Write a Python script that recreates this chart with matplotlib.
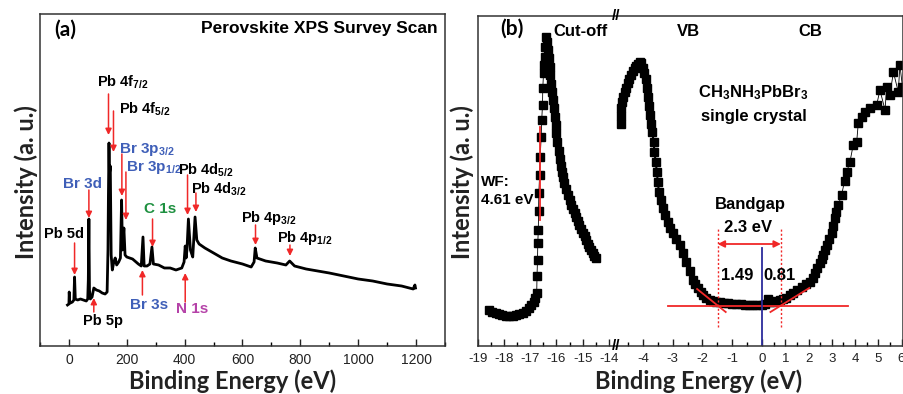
import numpy as np
import matplotlib
matplotlib.use("Agg")
import matplotlib.pyplot as plt
import matplotlib.transforms as mtransforms
from matplotlib.ticker import FixedLocator, MultipleLocator

plt.rcParams['font.family'] = ['Liberation Sans', 'DejaVu Sans']
plt.rcParams['mathtext.fontset'] = 'custom'
plt.rcParams['mathtext.rm'] = 'Liberation Sans:bold'
plt.rcParams['mathtext.it'] = 'Liberation Sans:bold'
plt.rcParams['mathtext.bf'] = 'Liberation Sans:bold'

RED = '#f02828'
BR_BLUE = '#3f5fb8'
C_GREEN = '#1e9040'
N_MAGENTA = '#b542a8'

# ---- (a) XPS survey scan (binding energy eV, intensity a.u.) ----
survey_be = [-5, 0, 1, 3, 5, 12, 17, 19.5, 22, 30, 40, 50, 60, 65, 67, 69, 71, 74, 80, 86, 95,
             105, 115, 125, 132, 135, 136.5, 138.5, 140, 143, 146, 150, 155, 160, 165, 172,
             178, 182, 185, 190, 194, 200, 220, 240, 250, 256, 260, 270, 280, 287, 292, 310,
             330, 350, 370, 390, 398, 402, 405, 408, 413, 420, 428, 436, 442, 450, 470, 500,
             530, 560, 600, 630, 640, 644, 650, 680, 720, 750, 763, 780, 820, 860, 900, 950,
             1000, 1050, 1100, 1150, 1190, 1196, 1198]
survey_int = [41, 42, 54, 43, 43, 44, 46, 69, 47, 46, 47, 46, 45, 47, 66, 127, 56, 47, 49, 58, 56,
              55, 53, 52, 54, 96, 150, 203, 172, 180, 91, 76, 84, 88, 81, 84,
              88, 146, 96, 118, 91, 89, 87, 82, 80, 109, 80, 80, 82, 99, 82, 81,
              78, 78, 76, 78, 84, 100, 88, 96, 127, 96, 89, 129, 106, 102, 98, 93,
              88, 85, 82, 79, 84, 98, 88, 85, 83, 81, 85, 80, 77, 75, 73, 70,
              67, 65, 62, 60, 57, 61, 58]

peak_labels = [r'Pb 4f$_{\mathregular{7/2}}$', r'Pb 4f$_{\mathregular{5/2}}$',
               r'Br 3p$_{\mathregular{3/2}}$', r'Br 3p$_{\mathregular{1/2}}$',
               r'Pb 4d$_{\mathregular{5/2}}$', r'Pb 4d$_{\mathregular{3/2}}$',
               'Br 3d', 'Pb 5d', 'Pb 5p', 'C 1s', 'Br 3s', 'N 1s',
               r'Pb 4p$_{\mathregular{3/2}}$', r'Pb 4p$_{\mathregular{1/2}}$']
label_be = [97.8, 173.8, 171.4, 198, 378.6, 422.5, -22, -87.7, 48.2, 257.8, 211.7, 370.6, 594, 720.6]
label_int = [259, 232.7, 192.7, 175.3, 171, 152.7, 157.7, 107.7, 21, 132.7, 37, 33.3, 124.3, 104.3]
label_colors = ['k', 'k', BR_BLUE, BR_BLUE, 'k', 'k', BR_BLUE, 'k', 'k', C_GREEN, BR_BLUE,
                N_MAGENTA, 'k', 'k']
label_sizes = [10.5, 10.5, 11, 11, 10.5, 10.5, 11, 10.5, 10.5, 11, 11, 11, 10.5, 10.5]
arrow_be = [136.8, 154, 183, 197, 410, 439, 69, 19.5, 86, 289, 254, 402, 645, 764]
arrow_tail = [252, 235, 192, 174, 171, 153, 156, 103, 34, 127, 51, 44, 121, 101]
arrow_tip = [211, 194, 150, 126, 131, 134, 128, 71, 48, 99, 76, 73, 101, 90]

# ---- (b) UPS / IPES ----
cut_rise_x = [-18.58, -18.45, -18.32, -18.19, -18.06, -17.92, -17.79, -17.66, -17.53, -17.41,
              -17.29, -17.16, -17.03, -16.95, -16.87, -16.80, -16.75, -16.74, -16.72, -16.71,
              -16.69, -16.68, -16.67, -16.64, -16.62, -16.58, -16.56, -16.53, -16.52, -16.49,
              -16.48, -16.45, -16.42, -16.39]
cut_rise_y = [36, 34, 33, 32, 31, 30, 30, 30, 31, 32, 33, 35, 38, 41, 44, 48, 53, 70, 86, 103,
              116, 135, 153, 171, 189, 209, 226, 241, 258, 273, 281, 289, 299, 309]
cut_fall_x = [-16.36, -16.33, -16.30, -16.26, -16.23, -16.20, -16.17, -16.14, -16.10, -16.07,
              -16.03, -16.00, -15.96, -15.92, -15.88, -15.84, -15.80, -15.76, -15.70, -15.63,
              -15.56, -15.50, -15.43, -15.37, -15.30, -15.24, -15.18, -15.12, -15.05, -14.99,
              -14.92, -14.86, -14.80, -14.74, -14.67, -14.61, -14.55, -14.48]
cut_fall_y = [304, 296, 288, 279, 271, 262, 254, 246, 238, 229, 221, 213, 204, 195, 187, 180,
              174, 169, 163, 157, 151, 146, 141, 137, 133, 129, 125, 121, 117, 113, 110, 106,
              102, 99, 96, 93, 90, 88]

vb_x = [-4.74, -4.73, -4.72, -4.70, -4.66, -4.61, -4.56, -4.51, -4.45, -4.39, -4.33, -4.27,
        -4.22, -4.16, -4.11, -4.06, -4.00, -3.95, -3.91, -3.87, -3.83, -3.79, -3.75, -3.71,
        -3.68, -3.64, -3.61, -3.57, -3.53, -3.50, -3.46, -3.40, -3.33, -3.25, -3.16, -3.08,
        -2.99, -2.88, -2.77, -2.66, -2.54, -2.43, -2.32, -2.24, -2.15, -2.06, -1.98, -1.87,
        -1.76, -1.65, -1.53, -1.42, -1.28, -1.14, -1.00, -0.86, -0.72, -0.58, -0.44, -0.30,
        -0.16, 0.0]
vb_y = [222, 230, 238, 244, 249, 254, 258, 263, 267, 271, 275, 278, 280, 282, 284, 283, 278,
        273, 267, 258, 249, 240, 231, 222, 214, 204, 194, 184, 174, 164, 154, 146, 138, 131,
        124, 118, 113, 107, 101, 93, 84, 75, 66, 62, 58, 54, 51, 48, 46, 45, 44, 44, 43, 43,
        42, 42, 42, 41, 41, 41, 41, 41]

cb_x = [0.13, 0.26, 0.33, 0.45, 0.60, 0.76, 0.90, 1.05, 1.20, 1.34, 1.50, 1.70, 1.88, 2.06,
        2.17, 2.27, 2.38, 2.49, 2.56, 2.63, 2.70, 2.78, 2.88, 2.99, 3.06, 3.13, 3.20, 3.28,
        3.42, 3.55, 3.64, 3.78, 3.92, 4.07, 4.14, 4.29, 4.43, 4.65, 4.93, 5.07, 5.29, 5.36,
        5.50, 5.65, 5.86, 5.93, 6.04]
cb_y = [42, 47, 44, 44, 45, 46, 47, 48, 51, 53, 56, 59, 62, 64, 68, 73, 78, 83, 87, 91, 96,
        101, 107, 113, 120, 128, 134, 141, 151, 165, 174, 184, 201, 204, 223, 229, 234, 238,
        241, 256, 236, 259, 251, 274, 254, 281, 259]

vbm, cbm = -1.49, 0.81
baseline_y = 40

# piecewise x scale with the axis break
BX = [-19.0, -13.72, -4.89, 0.0, 6.05]
BU = [0.0, 138.3, 138.4, 283.9, 424.3]


def _pl(v, xs, ys):
    v = np.asarray(v, dtype=float)
    out = np.interp(v, xs, ys)
    s0 = (ys[1] - ys[0]) / (xs[1] - xs[0])
    s1 = (ys[-1] - ys[-2]) / (xs[-1] - xs[-2])
    out = np.where(v < xs[0], ys[0] + (v - xs[0]) * s0, out)
    out = np.where(v > xs[-1], ys[-1] + (v - xs[-1]) * s1, out)
    return out


def fwd(v):
    return _pl(v, BX, BU)


def inv(u):
    return _pl(u, BU, BX)


W, H = 904, 394
fig = plt.figure(figsize=(W / 100, H / 100), dpi=100)
ax1 = fig.add_axes([40 / W, 1 - 346 / H, 405 / W, 332 / H])
ax2 = fig.add_axes([477.7 / W, 1 - 346 / H, 425 / W, 330.3 / H])

for ax in (ax1, ax2):
    for s in ax.spines.values():
        s.set_linewidth(1.1)
        s.set_color('#333333')
    ax.set_yticks([])
    ax.tick_params(axis='x', which='major', direction='in', length=5, width=1, pad=5,
                   labelsize=10, colors='#222222')
    ax.tick_params(axis='x', which='minor', direction='in', length=3, width=1)

# ---- panel (a) ----
ax1.plot(survey_be, survey_int, color='k', lw=2)
ax1.set_xlim(-100, 1300)
ax1.set_ylim(0, 332)
ax1.xaxis.set_major_locator(MultipleLocator(200))
ax1.xaxis.set_minor_locator(MultipleLocator(100))

for lab, lx, ly, c, fs, axx, t0, t1 in zip(peak_labels, label_be, label_int, label_colors,
                                             label_sizes, arrow_be, arrow_tail, arrow_tip):
    ax1.text(lx, ly, lab, color=c, fontsize=fs, fontweight='bold', ha='left', va='baseline')
    ax1.annotate('', xy=(axx, t1), xytext=(axx, t0),
                 arrowprops=dict(arrowstyle='-|>', color=RED, lw=1.1, mutation_scale=9,
                                 shrinkA=0, shrinkB=0))

panel_font = dict(family=['Lato', 'DejaVu Sans'], fontsize=15, fontweight='bold',
                  ha='center', va='center')
ax1.text(-12, 316.5, '(a)', **panel_font)
ax1.text(1275, 317.7, 'Perovskite XPS Survey Scan', fontsize=12.5, fontweight='bold',
         ha='right', va='center')

# ---- panel (b) ----
ax2.set_xscale('function', functions=(fwd, inv))
ax2.set_xlim(-19, 6.05)
ax2.set_ylim(0, 330.3)
major = list(range(-19, -13)) + list(range(-4, 7))
minor = [m + 0.5 for m in range(-19, -14)] + [m + 0.5 for m in range(-5, 6)]
ax2.xaxis.set_major_locator(FixedLocator(major))
ax2.xaxis.set_minor_locator(FixedLocator(minor))
ax2.set_xticklabels([str(m) for m in major])
ax2.tick_params(axis='x', labelsize=9.5)

mk = dict(marker='s', color='k', ms=5.3, mec='k')
ax2.plot(cut_rise_x, cut_rise_y, lw=0.6, **mk)
ax2.plot(cut_fall_x, cut_fall_y, lw=4, **mk)
ax2.plot(vb_x, vb_y, lw=1.5, **mk)
ax2.plot(cb_x, cb_y, lw=0.6, **mk)

# band gap construction
ax2.plot([-3.16, 3.71], [baseline_y, baseline_y], color=RED, lw=1.3)
ax2.plot([-2.18, -1.22], [57, 34], color=RED, lw=1.3)
ax2.plot([0.36, 2.03], [34, 58], color=RED, lw=1.3)
for xv in (vbm, cbm):
    ax2.plot([xv, xv], [19, 118], color=RED, lw=1, ls=(0, (1.5, 1.5)))
ax2.annotate('', xy=(vbm, 102), xytext=(cbm, 102),
             arrowprops=dict(arrowstyle='<|-|>', color=RED, lw=1.3, mutation_scale=10,
                             shrinkA=0, shrinkB=0))
ax2.plot([0, 0], [0, 98], color='#2c2c9c', lw=1.3)
ax2.plot([-16.62, -16.62], [126, 219], color=RED, lw=1.3)

tk = dict(fontsize=12, fontweight='bold', ha='center', va='center')
ax2.text(-17.69, 317, '(b)', **panel_font)
ax2.text(-15.10, 315, 'Cut-off', **tk)
ax2.text(-2.46, 315, 'VB', **tk)
ax2.text(2.06, 315, 'CB', **tk)
ax2.text(-0.31, 253, r'CH$_{\mathregular{3}}$NH$_{\mathregular{3}}$PbBr$_{\mathregular{3}}$', **tk)
ax2.text(-0.28, 229, 'single crystal', **tk)
ax2.text(-0.38, 142, 'Bandgap', **tk)
ax2.text(-0.46, 119, '2.3 eV', **tk)
ax2.text(-0.82, 71, '1.49', **tk)
ax2.text(0.76, 71, '0.81', **tk)
ax2.text(-18.86, 164, 'WF:', fontsize=11, fontweight='bold', ha='left', va='center')
ax2.text(-18.86, 146, '4.61 eV', fontsize=11, fontweight='bold', ha='left', va='center')

# axis break marks
br = mtransforms.blended_transform_factory(ax2.transData, ax2.transAxes)
for yy in (1.0, 0.0):
    ax2.text(-9, yy, '//', transform=br, fontsize=11, fontweight='bold', ha='center',
             va='center', clip_on=False)

# axis titles
lab = dict(family=['Lato', 'DejaVu Sans'], fontsize=17, fontweight='bold', ha='center',
           va='center', color='#222222')
fig.text(232.5 / W, 1 - 381.5 / H, 'Binding Energy (eV)', **lab)
fig.text(698.3 / W, 1 - 381.5 / H, 'Binding Energy (eV)', **lab)
fig.text(26 / W, 1 - 182 / H, 'Intensity (a. u.)', rotation=90, **lab)
fig.text(462 / W, 1 - 182 / H, 'Intensity (a. u.)', rotation=90, **lab)

fig.savefig('out.png', dpi=100)
